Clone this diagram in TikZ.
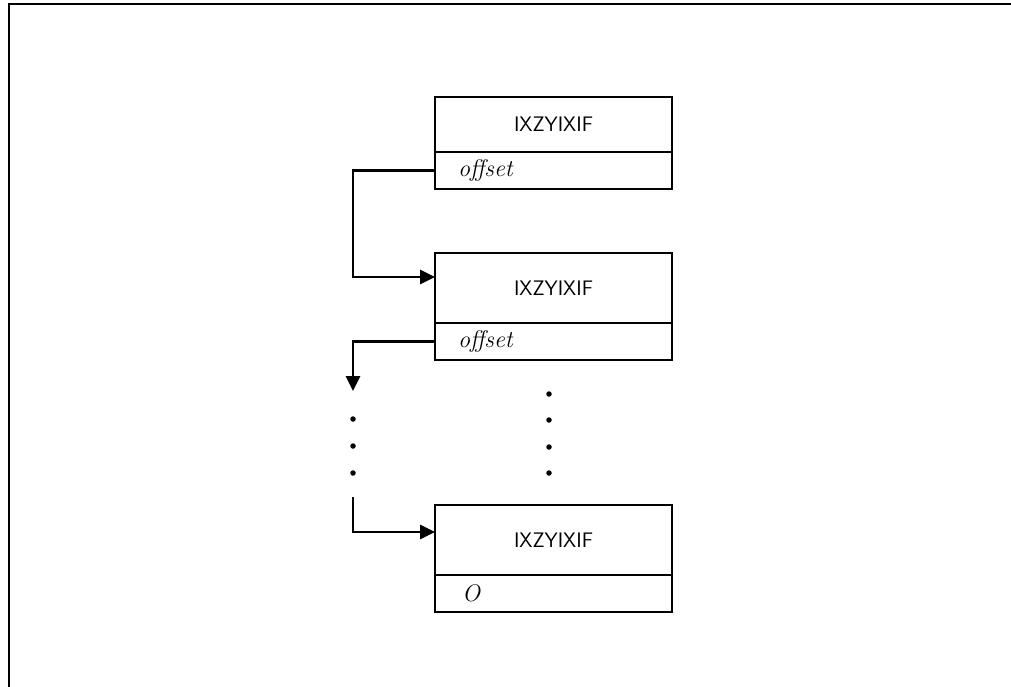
\documentclass[tikz,border=0pt]{standalone}
\usepackage{fontspec}
\usetikzlibrary{positioning,arrows.meta}
\tikzset{
	head/.style={draw,line width=2.8pt,outer sep=0pt,minimum width=237pt,minimum height=#1,inner sep=0pt,font=\sffamily\fontsize{21}{24}\selectfont},
	tail/.style={draw,line width=2.8pt,outer sep=0pt,minimum height=37pt,text width=191pt,inner xsep=23pt,inner ysep=0pt,align=left,font=\itshape\fontsize{24}{28}\selectfont},
	link/.style={line width=2.8pt,-{Triangle[length=15pt,width=14pt]}},
	dot/.style={fill,circle,inner sep=0pt,minimum size=5.5pt}
}
\begin{document}
\begin{tikzpicture}[x=1pt,y=-1pt]
			\useasboundingbox (0,0) rectangle (1011,687);
			\draw[line width=1.8pt] (9,687) -- (9,4) -- (1011,4);
			% records
			\node[head=55pt] (h1) at (553.5,124.5) {IXZYIXIF};
			\node[tail,below=0pt of h1] (t1) {offset};
			\node[head=70pt] (h2) at (553.5,288) {IXZYIXIF};
			\node[tail,below=0pt of h2] (t2) {offset};
			\node[head=70pt] (h3) at (553.5,540) {IXZYIXIF};
			\node[tail,below=0pt of h3] (t3) {\,O};
			% bends of the links
			\coordinate (b1) at (353,277);
			\coordinate (g1) at (353,391);
			\coordinate (g2) at (353,497);
			\coordinate (b3) at (353,532);
			\draw[link] (t1.west) -| (b1) -- (b1 -| h2.west);
			\draw[link] (t2.west) -| (g1);
			\draw[link] (g2) -- (b3) -- (b3 -| h3.west);
			% dots
			\foreach \y [count=\i] in {419,446,473}
				\node[dot] (l\i) at (353,\y) {};
			\foreach \y [count=\i] in {394,420,447,473}
				\node[dot] (r\i) at (549,\y) {};
		\end{tikzpicture}
\end{document}
